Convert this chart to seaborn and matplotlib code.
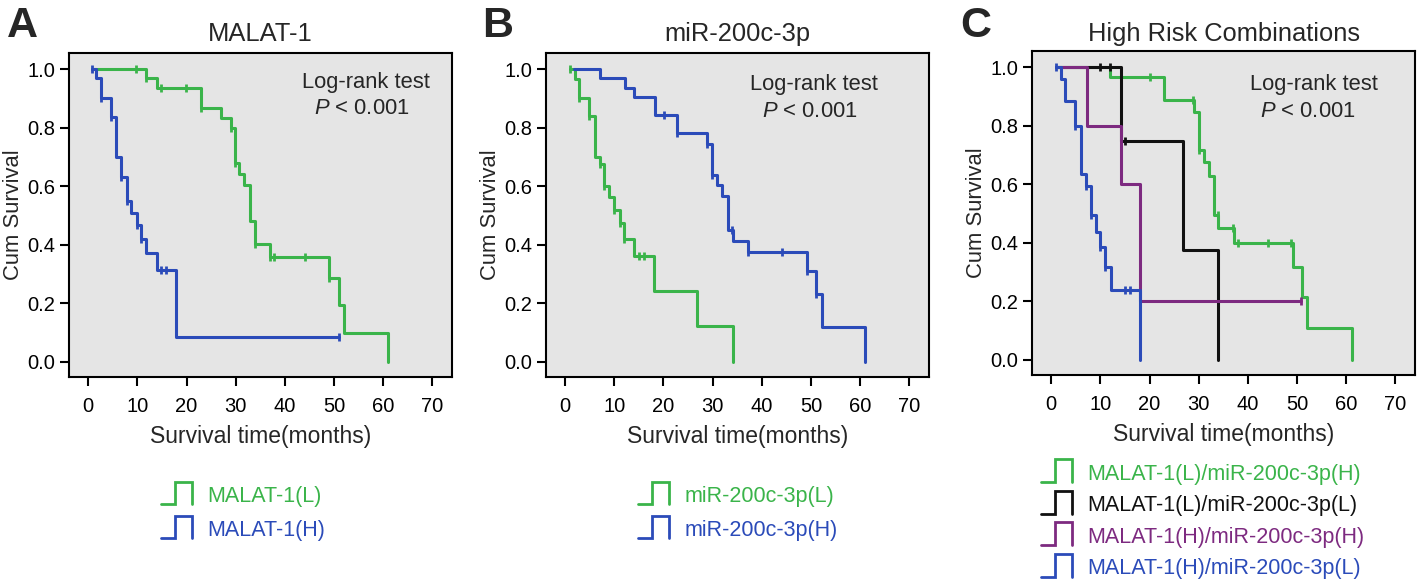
"""Kaplan-Meier curves for MALAT-1, miR-200c-3p and their combinations."""
import matplotlib
matplotlib.use("Agg")
import matplotlib.pyplot as plt
import numpy as np
import pandas as pd
import seaborn as sns
from matplotlib.legend_handler import HandlerBase
from matplotlib.lines import Line2D

GREEN = "#3ab44a"
BLUE = "#2b4bb9"
PURPLE = "#7d2a80"
BLACK = "#111111"

# ---- panel A: MALAT-1 ----
a_low_t = [0.8, 11.8, 13.9, 22.9, 27.0, 29.0, 29.8, 30.7, 31.7, 32.9, 33.9, 37.0, 48.9, 51.0, 52.1, 61.0]
a_low_s = [1.0, 0.968, 0.936, 0.866, 0.834, 0.797, 0.680, 0.643, 0.604, 0.482, 0.404, 0.359, 0.285, 0.194, 0.097, 0.0]
a_low_cens = [9.8, 11.8, 14.7, 19.8, 22.9, 29.0, 29.8, 33.9, 37.0, 37.8, 44.0, 48.9]
a_high_t = [0.8, 1.6, 2.6, 4.7, 5.7, 6.6, 7.8, 8.8, 9.9, 10.8, 11.8, 13.9, 17.8, 51.0]
a_high_s = [1.0, 0.968, 0.902, 0.837, 0.700, 0.630, 0.550, 0.509, 0.467, 0.418, 0.370, 0.315, 0.083, 0.083]
a_high_cens = [0.8, 2.6, 4.7, 6.6, 7.8, 9.9, 10.8, 14.7, 15.8, 51.0]

# ---- panel B: miR-200c-3p ----
b_low_t = [0.9, 2.0, 2.9, 4.9, 6.0, 7.0, 8.0, 9.0, 10.0, 11.1, 12.0, 14.0, 18.1, 26.9, 34.1]
b_low_s = [1.0, 0.966, 0.902, 0.841, 0.700, 0.675, 0.600, 0.564, 0.520, 0.475, 0.419, 0.361, 0.243, 0.122, 0.0]
b_low_cens = [1.0, 2.9, 4.9, 7.0, 8.0, 10.0, 11.1, 12.0, 15.1, 16.1]
b_high_t = [1.9, 7.1, 12.2, 14.0, 18.3, 22.8, 28.8, 29.8, 30.8, 31.9, 33.2, 34.1, 37.1, 49.2, 51.1, 52.2, 61.0]
b_high_s = [1.0, 0.968, 0.937, 0.905, 0.843, 0.780, 0.743, 0.638, 0.604, 0.566, 0.450, 0.413, 0.376, 0.311, 0.233, 0.120, 0.0]
b_high_cens = [20.1, 22.8, 28.8, 29.8, 33.9, 37.3, 44.1, 49.2, 51.1]

# ---- panel C: combinations ----
c_lh_t = [1.0, 12.0, 23.0, 29.0, 30.0, 31.0, 32.0, 33.2, 34.0, 37.1, 49.1, 51.1, 52.0, 61.1]
c_lh_s = [1.0, 0.965, 0.886, 0.848, 0.718, 0.675, 0.629, 0.495, 0.449, 0.399, 0.318, 0.213, 0.108, 0.0]
c_lh_cens = [20.0, 28.8, 30.0, 33.9, 36.9, 37.9, 44.0, 48.8]
c_ll_t = [1.0, 14.1, 26.9, 34.0]
c_ll_s = [1.0, 0.749, 0.376, 0.0]
c_ll_cens = [10.0, 12.0, 15.0]
c_hh_t = [1.0, 7.2, 14.1, 18.1, 50.9]
c_hh_s = [1.0, 0.797, 0.599, 0.200, 0.200]
c_hh_cens = [50.9]
c_hl_t = [1.0, 1.9, 2.9, 4.9, 6.0, 7.0, 8.0, 9.2, 10.0, 10.9, 12.2, 18.0]
c_hl_s = [1.0, 0.960, 0.884, 0.800, 0.635, 0.595, 0.493, 0.438, 0.384, 0.318, 0.239, 0.0]
c_hl_cens = [1.0, 4.9, 7.0, 8.0, 10.0, 10.9, 15.1, 16.1]

panels = [
    ("A", "MALAT-1", [
        ("MALAT-1(L)", GREEN, a_low_t, a_low_s, a_low_cens),
        ("MALAT-1(H)", BLUE, a_high_t, a_high_s, a_high_cens),
    ]),
    ("B", "miR-200c-3p", [
        ("miR-200c-3p(L)", GREEN, b_low_t, b_low_s, b_low_cens),
        ("miR-200c-3p(H)", BLUE, b_high_t, b_high_s, b_high_cens),
    ]),
    ("C", "High Risk Combinations", [
        ("MALAT-1(L)/miR-200c-3p(H)", GREEN, c_lh_t, c_lh_s, c_lh_cens),
        ("MALAT-1(L)/miR-200c-3p(L)", BLACK, c_ll_t, c_ll_s, c_ll_cens),
        ("MALAT-1(H)/miR-200c-3p(H)", PURPLE, c_hh_t, c_hh_s, c_hh_cens),
        ("MALAT-1(H)/miR-200c-3p(L)", BLUE, c_hl_t, c_hl_s, c_hl_cens),
    ]),
]


class PulseHandler(HandlerBase):
    """Legend glyph shaped like a single step pulse."""

    def create_artists(self, legend, orig_handle, xdescent, ydescent,
                       width, height, fontsize, trans):
        x0, x1 = -xdescent, -xdescent + width
        xm = x0 + 0.46 * width
        yb, yt = -ydescent - 0.15 * height, -ydescent + 1.35 * height
        line = Line2D([x0, xm, xm, x1, x1], [yb, yb, yt, yt, yb],
                      color=orig_handle.get_color(), lw=2.0,
                      solid_joinstyle="miter", transform=trans)
        return [line]


sns.set_style("ticks", {"axes.facecolor": "#e5e5e5"})
plt.rcParams["font.family"] = ["Liberation Sans", "DejaVu Sans"]
plt.rcParams["mathtext.fontset"] = "custom"
plt.rcParams["mathtext.it"] = "Liberation Sans:italic"
plt.rcParams["mathtext.rm"] = "Liberation Sans"

fig = plt.figure(figsize=(14.18, 5.84), dpi=100)

ax_pos = [
    [0.0487, 0.3545, 0.2701, 0.5548],
    [0.3850, 0.3545, 0.2701, 0.5548],
    [0.7278, 0.3579, 0.2701, 0.5548],
]
letter_x = [0.0155, 0.351, 0.688]
# (x, baseline) of the "Log-rank test" line and the P line, in data units
logrank_pos = [((56.5, 0.935), (55.7, 0.845)),
               ((50.6, 0.928), (49.7, 0.837)),
               ((53.4, 0.923), (52.3, 0.829))]
legend_anchor = [(0.1133, 0.168), (0.4497, 0.168), (0.7341, 0.206)]
legend_spacing = [0.61, 0.61, 0.49]

for i, (letter, title, curves) in enumerate(panels):
    ax = fig.add_axes(ax_pos[i])
    handles = []
    for label, color, t, s, cens in curves:
        df = pd.DataFrame({"months": t, "surv": s})
        sns.lineplot(data=df, x="months", y="surv", drawstyle="steps-post",
                     estimator=None, sort=False, color=color, lw=2.2, ax=ax)
        t_arr = np.asarray(t)
        s_arr = np.asarray(s)
        idx = np.searchsorted(t_arr, cens, side="right") - 1
        cdf = pd.DataFrame({"months": cens, "surv": s_arr[idx]})
        sns.scatterplot(data=cdf, x="months", y="surv", marker="|", s=30,
                        linewidth=2.0, color=color, ax=ax, zorder=3)
        handles.append(Line2D([], [], color=color, label=label))

    ax.set_xlim(-3.9, 74.0)
    ax.set_ylim(-0.052, 1.055)
    ax.set_xticks(np.arange(0, 71, 10))
    ax.set_yticks(np.arange(0, 1.01, 0.2))
    ax.set_yticklabels([f"{v:.1f}" for v in np.arange(0, 1.01, 0.2)])
    ax.tick_params(axis="both", labelsize=14.5, length=6.5, width=1.5,
                   color="black", labelcolor="black")
    ax.tick_params(axis="x", pad=8)
    ax.tick_params(axis="y", pad=3.5)
    for sp in ax.spines.values():
        sp.set_color("black")
        sp.set_linewidth(1.5)
    ax.set_xlabel("Survival time(months)", fontsize=16.5, labelpad=6.5)
    ax.set_ylabel("Cum Survival", fontsize=15.8, labelpad=2)

    (lx, ly), (px, py) = logrank_pos[i]
    ax.text(lx, ly, "Log-rank test", fontsize=15.8, ha="center", va="baseline")
    ax.text(px, py, r"$\it{P}$ < 0.001", fontsize=15.8, ha="center",
            va="baseline")

    pos = ax_pos[i]
    fig.text(pos[0] + pos[2] / 2, 0.930, title, fontsize=18.4,
             ha="center", va="baseline")
    fig.text(letter_x[i], 0.937, letter, fontsize=31, fontweight="bold",
             ha="center", va="baseline")

    fig.legend(handles=handles, handler_map={Line2D: PulseHandler()},
               loc="upper left", bbox_to_anchor=legend_anchor[i],
               frameon=False, fontsize=15.5, labelcolor="linecolor",
               handlelength=1.44, handletextpad=0.72, borderpad=0,
               borderaxespad=0, labelspacing=legend_spacing[i])

fig.savefig("out.png", dpi=100)
plt.close(fig)
